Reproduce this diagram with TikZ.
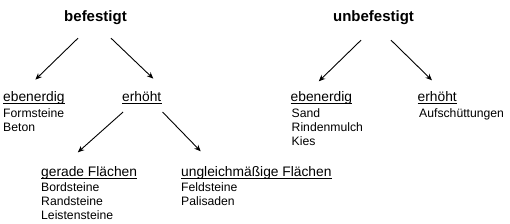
\documentclass[tikz,border=0pt]{standalone}
\usepackage{fontspec}
\setmainfont{Liberation Sans}
\usetikzlibrary{arrows.meta}

\begin{document}
\begin{tikzpicture}[
    x=1pt, y=1pt,
    every node/.style={inner sep=0pt, text=black},
    title/.style={font=\fontsize{15}{18}\selectfont\bfseries, anchor=base},
    heading/.style={font=\fontsize{13.8}{16}\selectfont, anchor=base west},
    item/.style={font=\fontsize{12.2}{14}\selectfont, anchor=base west},
    uline/.style={line width=0.8pt},
    arr/.style={-{Stealth[length=6.5pt,width=5.5pt]}, line width=0.9pt},
]

% Frame
\useasboundingbox (0,0) rectangle (510,-223);

% === Main categories ===
\node[title] (bef) at (95.5,-21) {befestigt};
\node[title] (unbef) at (373.5,-21) {unbefestigt};

% === Second level ===
\node[heading] (bef-eben) at (3,-101.5) {ebenerdig};
\node[heading] (bef-erh) at (122,-101.5) {erhöht};
\node[heading] (unb-eben) at (290.5,-101.5) {ebenerdig};
\node[heading] (unb-erh) at (417.5,-101.5) {erhöht};

% === Third level (below erhöht) ===
\node[heading] (erh-ger) at (41,-176.5) {gerade Flächen};
\node[heading] (erh-ung) at (181,-176.5) {ungleichmäßige Flächen};

% Underlines (close to the baseline)
\foreach \n in {bef-eben,bef-erh,unb-eben,unb-erh,erh-ger,erh-ung} {
    \draw[uline] ([yshift=-1.6pt]\n.base west) -- ([yshift=-1.6pt]\n.base east);
}

% === Item lists ===
\foreach \t [count=\i] in {Formsteine,Beton} {
    \pgfmathsetmacro{\dy}{-15.5-14*(\i-1)}
    \node[item] (bef-eben-\i) at ([yshift=\dy pt]bef-eben.base west) {\t};
}
\foreach \t [count=\i] in {Sand,Rindenmulch,Kies} {
    \pgfmathsetmacro{\dy}{-15.5-14*(\i-1)}
    \node[item] (unb-eben-\i) at ([xshift=1pt,yshift=\dy pt]unb-eben.base west) {\t};
}
\node[item] (unb-erh-1) at ([xshift=1.5pt,yshift=-15.5pt]unb-erh.base west) {Aufschüttungen};
\foreach \t [count=\i] in {Bordsteine,Randsteine,Leistensteine} {
    \pgfmathsetmacro{\dy}{-14.5-14*(\i-1)}
    \node[item] (erh-ger-\i) at ([yshift=\dy pt]erh-ger.base west) {\t};
}
\foreach \t [count=\i] in {Feldsteine,Palisaden} {
    \pgfmathsetmacro{\dy}{-14.5-14*(\i-1)}
    \node[item] (erh-ung-\i) at ([yshift=\dy pt]erh-ung.base west) {\t};
}

% === Arrows ===
\draw[arr] ([xshift=-17.5pt,yshift=-13.8pt]bef.south) -- ([xshift=1.5pt,yshift=11.7pt]bef-eben.north);
\draw[arr] ([xshift=15.5pt,yshift=-13.8pt]bef.south) -- ([xshift=11.5pt,yshift=12.7pt]bef-erh.north);
\draw[arr] ([xshift=-12.5pt,yshift=-15.8pt]unbef.south) -- ([xshift=-2.6pt,yshift=10pt]unb-eben.north);
\draw[arr] ([xshift=17.5pt,yshift=-15.8pt]unbef.south) -- ([xshift=-5.3pt,yshift=11pt]unb-erh.north);
\draw[arr] ([xshift=-18.7pt,yshift=-10.2pt]bef-erh.south) -- ([xshift=-11.3pt,yshift=14pt]erh-ger.north);
\draw[arr] ([xshift=20.8pt,yshift=-10.2pt]bef-erh.south) -- ([xshift=19.7pt,yshift=15pt]erh-ung.north west);

\end{tikzpicture}
\end{document}
